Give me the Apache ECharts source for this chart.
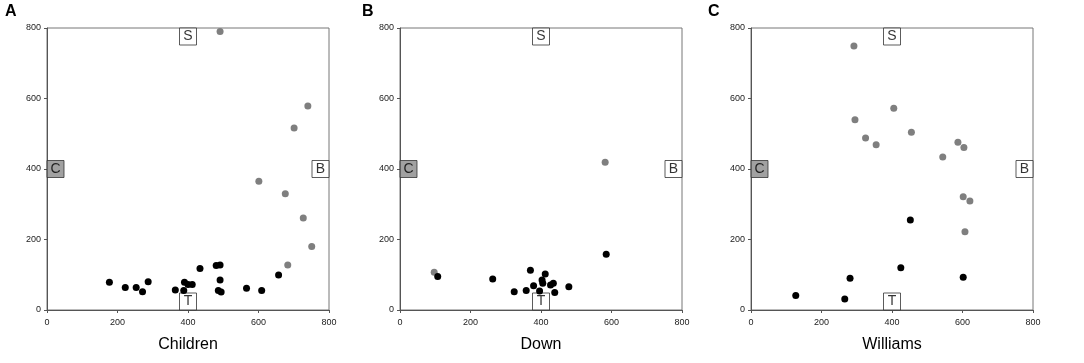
<!DOCTYPE html>
<html>
<head>
<meta charset="utf-8">
<script src="https://cdn.jsdelivr.net/npm/echarts@6/dist/echarts.min.js"></script>
<style>
  html, body { margin: 0; padding: 0; background: #fff; }
  #chart { width: 1084px; height: 363px; }
</style>
</head>
<body>
<div id="chart"></div>
<script>
// panel names and letters
var panelNames = ["Children", "Down", "Williams"];
var panelLetters = ["A", "B", "C"];

// grey points (upper group) and black points (lower group), [x, y]
var childrenGray = [[491, 790], [740, 579], [701, 516], [601, 365], [676, 330], [727, 261], [751, 180], [683, 128]];
var childrenBlack = [[177, 79], [222, 64], [253, 64], [271, 52], [287, 80], [364, 57], [388, 55], [390, 79], [400, 72],
  [412, 72], [434, 118], [480, 126], [491, 128], [491, 85], [486, 55], [494, 51], [566, 62], [609, 55], [657, 99]];

var downGray = [[97, 107], [582, 419]];
var downBlack = [[107, 95], [263, 88], [324, 52], [358, 55], [370, 113], [379, 69], [396, 54], [403, 85], [405, 76],
  [412, 102], [427, 71], [435, 76], [439, 50], [479, 66], [585, 158]];

var williamsGray = [[292, 749], [405, 572], [295, 540], [455, 504], [325, 488], [355, 469], [587, 476], [604, 461],
  [544, 434], [602, 321], [621, 309], [607, 222]];
var williamsBlack = [[127, 41], [266, 31], [281, 90], [425, 120], [452, 255], [602, 93]];

// anchor boxes on the plot edges
var boxLabels = ["S", "T", "C", "B"];
var boxX = [400, 400, 0, 800];
var boxY = [800, 0, 400, 400];

var axisMax = 800, axisStep = 200;

var grays = [childrenGray, downGray, williamsGray];
var blacks = [childrenBlack, downBlack, williamsBlack];
var gridLefts = [47, 400, 751];
var letterX = [5, 362, 708];

var FONT = "Liberation Sans, Arial, sans-serif";

var grids = [], xAxes = [], yAxes = [], series = [], graphics = [];
var offsets = [[0, 8.5], [0, -8.5], [8.5, 0], [-8.5, 0]];

for (var i = 0; i < 3; i++) {
  grids.push({ left: gridLefts[i], top: 28, width: 282, height: 282, show: true,
    borderColor: "#777", borderWidth: 1, backgroundColor: "#fff" });
  xAxes.push({ gridIndex: i, type: "value", min: 0, max: axisMax, interval: axisStep,
    name: panelNames[i], nameLocation: "middle", nameGap: 27,
    nameTextStyle: { fontFamily: FONT, fontSize: 16, color: "#000" },
    axisLine: { lineStyle: { color: "#555", width: 1 } },
    axisTick: { show: true, length: 3, lineStyle: { color: "#555" } },
    axisLabel: { fontFamily: FONT, fontSize: 9, color: "#222", margin: 8 },
    splitLine: { show: false } });
  yAxes.push({ gridIndex: i, type: "value", min: 0, max: axisMax, interval: axisStep,
    axisLine: { show: true, lineStyle: { color: "#555", width: 1 } },
    axisTick: { show: true, length: 3, lineStyle: { color: "#555" } },
    axisLabel: { fontFamily: FONT, fontSize: 9, color: "#222", margin: 6 },
    splitLine: { show: false } });

  var boxData = boxLabels.map(function (t, k) {
    return {
      value: [boxX[k], boxY[k]],
      name: t,
      symbolOffset: offsets[k],
      itemStyle: { color: t === "C" ? "#8a8a8a" : "#fff" }
    };
  });
  series.push({ type: "scatter", xAxisIndex: i, yAxisIndex: i, symbol: "rect", symbolSize: [17, 17],
    data: boxData, z: 3, silent: true,
    itemStyle: { borderColor: "#333", borderWidth: 1 },
    label: { show: true, position: "inside", formatter: "{b}", fontFamily: FONT, fontSize: 14, color: "#000" }
  });
  series.push({ type: "scatter", xAxisIndex: i, yAxisIndex: i, symbolSize: 7, data: grays[i], z: 4,
    itemStyle: { color: "#7f7f7f", opacity: 1 } });
  series.push({ type: "scatter", xAxisIndex: i, yAxisIndex: i, symbolSize: 7, data: blacks[i], z: 5,
    itemStyle: { color: "#000", opacity: 1 } });

  graphics.push({ type: "text", left: letterX[i], top: 4,
    style: { text: panelLetters[i], font: "bold 16px " + FONT, fill: "#000" } });
}

var chart = echarts.init(document.getElementById("chart"), null, { renderer: "canvas" });
chart.setOption({
  animation: false,
  backgroundColor: "#fff",
  grid: grids,
  xAxis: xAxes,
  yAxis: yAxes,
  series: series,
  graphic: graphics
});
</script>
</body>
</html>
